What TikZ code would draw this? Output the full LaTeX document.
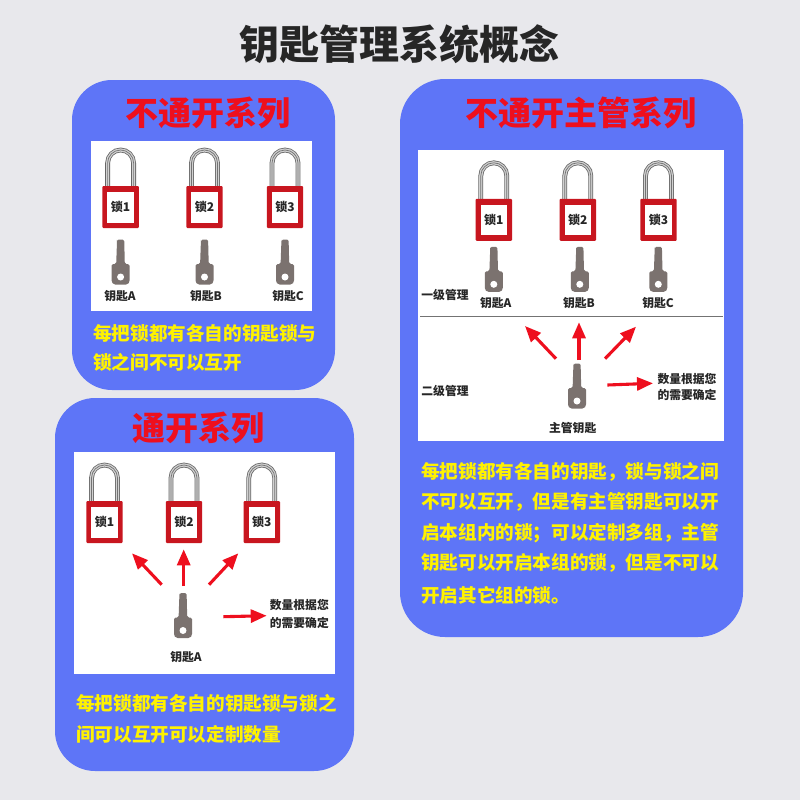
\documentclass[tikz,border=0pt]{standalone}
\usepackage{fontspec}
\usepackage{xcolor}
\usepackage{tikz}
\usetikzlibrary{arrows.meta}
\setmainfont{Noto Sans CJK SC}
\definecolor{pageC}{HTML}{E8E8EC}
\definecolor{panelC}{HTML}{5E75F7}
\definecolor{lockC}{HTML}{C8161F}
\definecolor{keyC}{HTML}{7B726F}
\definecolor{headC}{HTML}{EE0F1E}
\definecolor{inkC}{HTML}{262626}
\newcommand{\fsize}[1]{\fontsize{#1}{#1}\selectfont\bfseries}
\tikzset{
  panel/.style={fill=panelC,rounded corners=#1},
  sheet/.style={fill=white},
  heading/.style={text=headC,font=\fsize{33},inner sep=0pt},
  note/.style={text=yellow,font=\fsize{18.6},inner sep=0pt,anchor=west},
  tag/.style={text=inkC,font=\fsize{11.8},inner sep=0pt},
  push/.style={draw=headC,line width=3.1pt,-{Triangle[length=16pt,width=13pt]}},
  pics/padlock/.style={code={
    % shackle, then body
    \draw[line width=4.8pt,color=black!60] (-13,-21) -- (-13,-44) arc (180:360:13) -- (13,-21);
    \draw[line width=3.2pt,color=black!18] (-13,-21) -- (-13,-44) arc (180:360:13) -- (13,-21);
    \draw[line width=0.7pt,color=black!55] (-13,-21) -- (-13,-44) arc (180:360:13) -- (13,-21);
    \fill[lockC,rounded corners=1pt] (-18.2,-21) rectangle (18.2,21);
    \fill[white] (-13.2,-15) rectangle (13.2,15.5);
    \node[tag,font=\fsize{12}] (-name) at (0,0) {#1};
  }},
  pics/keyblade/.style={code={
    % origin at the tip of the blade
    \fill[keyC,rounded corners=1.6pt]
      (-3.6,1.5) -- (-3.6,-0.5) -- (3.6,-0.5) -- (4.2,24) -- (9,24) -- (9,42) -- (7,44.5)
      -- (-7,44.5) -- (-9,42) -- (-9,24) -- (-4.4,24) -- cycle;
    \fill[white] (0,37) circle (3.5);
  }},
}
\begin{document}
\begin{tikzpicture}[x=1pt,y=-1pt]
  \useasboundingbox (0,0) rectangle (800,800);
  \fill[pageC] (0,0) rectangle (800,800);

  % Title
  \node[text=inkC,font=\fsize{40},inner sep=0pt] (title) at (399,44) {钥匙管理系统概念};

  % Panels
  \fill[panel=40pt] (72,80) rectangle (335,390);
  \fill[panel=40pt] (55,398) rectangle (354,771);
  \fill[panel=45pt] (400,79) rectangle (743,637);
  \fill[sheet] (91,141) rectangle (312,311);
  \fill[sheet] (74,452) rectangle (335,674);
  \fill[sheet] (418,150) rectangle (724,441);

  % Headings
  \node[heading] (headA) at (208,113) {不通开系列};
  \node[heading] (headB) at (198,428) {通开系列};
  \node[heading] (headC) at (581,113) {不通开主管系列};

  % Separate keys
  \foreach \xa/\xb/\n/\k in {120.6/120/1/A,204.5/206/2/B,285/288/3/C}{
    \pic (lockA\n) at (\xa,207) {padlock=锁\n};
    \pic at (\xa,240) {keyblade};
    \node[tag] (keyA\k) at (\xb,296) {钥匙\k};
  }
  \node[note] (noteA) at (93,333) {每把锁都有各自的钥匙锁与};
  \node[note] (noteB) at (93,362) {锁之间不可以互开};

  % One key for all
  \foreach \xa/\n in {104.5/1,184/2,261.8/3}{
    \pic (lockB\n) at (\xa,522) {padlock=锁\n};
  }
  \pic at (183,593.5) {keyblade};
  \node[tag] (keyB) at (186,656.7) {钥匙A};
  \node[tag] (countB) at (299.3,605) {数量根据您};
  \node[tag] (needB) at (299.3,623) {的需要确定};
  \coordinate (b0) at (161.7,584.7);
  \coordinate (b1) at (132,553.3);
  \coordinate (c0) at (183.7,586);
  \coordinate (c1) at (183.7,549.3);
  \coordinate (d0) at (209,584.7);
  \coordinate (d1) at (238.3,553.3);
  \coordinate (e0) at (223.3,616.7);
  \coordinate (e1) at (266.7,615.7);
  \draw[push] (b0) -- (b1);
  \draw[push] (c0) -- (c1);
  \draw[push] (d0) -- (d1);
  \draw[push] (e0) -- (e1);
  \node[note] (noteC) at (76,703) {每把锁都有各自的钥匙锁与锁之};
  \node[note] (noteD) at (76,734) {间可以互开可以定制数量};

  % Master key
  \foreach \xa/\xb/\xc/\n/\k in {493.8/495.7/493.8/1/A,577.8/579/579.8/2/B,658.5/658/658.3/3/C}{
    \pic (lockC\n) at (\xa,219.8) {padlock=锁\n};
    \pic at (\xc,247.3) {keyblade};
    \node[tag] (keyC\k) at (\xb,303.5) {钥匙\k};
  }
  \node[tag] (levelA) at (445,294.7) {一级管理};
  \node[tag] (levelB) at (445,390.7) {二级管理};
  \coordinate (ruleL) at (420,316);
  \coordinate (ruleR) at (723,316);
  \draw[color=black!55,line width=0.9pt] (ruleL) -- (ruleR);
  \pic at (577,364) {keyblade};
  \node[tag] (keyM) at (572.7,428) {主管钥匙};
  \node[tag] (countC) at (687,378.7) {数量根据您};
  \node[tag] (needC) at (687,395) {的需要确定};
  \coordinate (f0) at (556,358.7);
  \coordinate (f1) at (525,326);
  \coordinate (g0) at (579,360);
  \coordinate (g1) at (579,322.3);
  \coordinate (h0) at (605,358.7);
  \coordinate (h1) at (636,326.7);
  \coordinate (i0) at (607.3,385);
  \coordinate (i1) at (653,383.3);
  \draw[push] (f0) -- (f1);
  \draw[push] (g0) -- (g1);
  \draw[push] (h0) -- (h1);
  \draw[push] (i0) -- (i1);
  \node[note] (noteE) at (421,472) {每把锁都有各自的钥匙，锁与锁之间};
  \node[note] (noteF) at (421,502) {不可以互开，但是有主管钥匙可以开};
  \node[note] (noteG) at (421,533) {启本组内的锁；可以定制多组，主管};
  \node[note] (noteH) at (421,563) {钥匙可以开启本组的锁，但是不可以};
  \node[note] (noteI) at (421,595) {开启其它组的锁。};
\end{tikzpicture}
\end{document}
